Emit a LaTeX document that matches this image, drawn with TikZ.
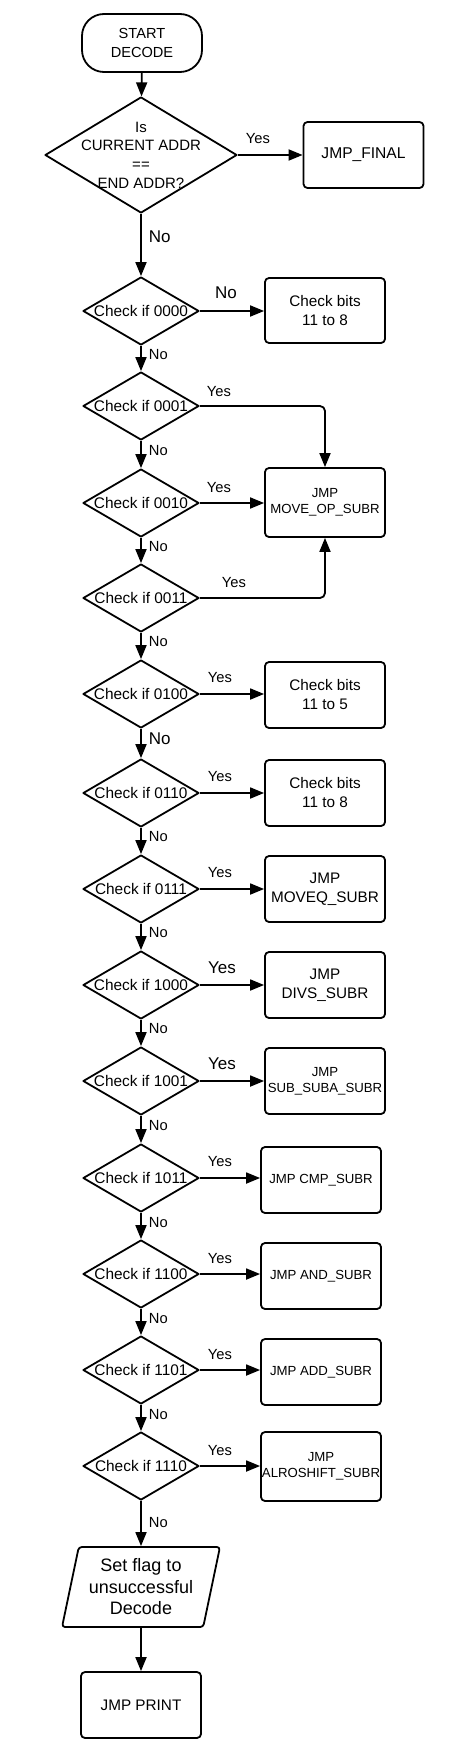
\documentclass[tikz,border=0pt]{standalone}
\usepackage{fontspec}
\setmainfont{Liberation Sans}
\usetikzlibrary{shapes.geometric,arrows.meta,calc}
\newcommand\fsz[2]{\fontsize{#1}{#2}\selectfont}
\begin{document}
\begin{tikzpicture}[x=1pt,y=-1pt,
  lw/.style={line width=1.8pt, line join=round},
  proc/.style={lw, draw, rectangle, rounded corners=4pt, minimum width=120pt, minimum height=66pt, align=center, inner sep=0pt, font=\fsz{15.3}{19}},
  small/.style={font=\fsz{13.2}{15.7}},
  dia/.style={lw, draw, diamond, minimum width=116pt, minimum height=68pt, inner sep=0pt},
  dtext/.style={font=\fsz{15.4}{19}, inner sep=0pt},
  arr/.style={lw, -{Triangle[length=14pt,width=11pt]}},
  lab/.style={font=\fsz{14.7}{17}, inner sep=0pt},
  biglab/.style={font=\fsz{17}{20}, inner sep=0pt},
]
\useasboundingbox (0,0) rectangle (467,1755);

% top part
\node[lw, draw, rectangle, rounded corners=22pt, minimum width=120pt, minimum height=58pt, align=center, inner sep=0pt, font=\fsz{14.6}{19}] (start) at (142,43) {START\\DECODE};
\node[lw, draw, diamond, minimum width=192pt, minimum height=116pt, inner sep=0pt,
  label={[font=\fsz{15}{18.7}, align=center, inner sep=0pt]center:{Is\\CURRENT ADDR\\==\\END ADDR?}}] (top) at (141,155) {};
\node[proc, font=\fsz{15.6}{19}] (final) at (363.5,155) {JMP\_FINAL};

% decision chain
\foreach \n/\y/\t in {0/311/0000, 1/406/0001, 2/503/0010, 3/598/0011, 4/694/0100, 5/793/0110, 6/889/0111, 7/985/1000, 8/1081/1001, 9/1178/1011, 10/1274/1100, 11/1370/1101, 12/1466/1110}
  \node[dia, label={[dtext]center:Check if \t}] (d\n) at (141,\y) {};

% right column boxes
\node[proc, minimum height=65pt] (cb1) at (325,310.5) {Check bits\\11 to 8};
\node[proc, small, minimum height=69pt] (mov) at (325,502.5) {JMP\\MOVE\_OP\_SUBR};
\node[proc] (cb2) at (325,695) {Check bits\\11 to 5};
\node[proc] (cb3) at (325,793) {Check bits\\11 to 8};
\node[proc] (moveq) at (325,889) {JMP\\MOVEQ\_SUBR};
\node[proc] (divs) at (325,985) {JMP\\DIVS\_SUBR};
\node[proc, small] (sub) at (325,1081) {JMP\\SUB\_SUBA\_SUBR};
\node[proc, small] (cmp) at (321,1180) {JMP CMP\_SUBR};
\node[proc, small] (and) at (321,1276) {JMP AND\_SUBR};
\node[proc, small] (add) at (321,1372) {JMP ADD\_SUBR};
\node[proc, small, minimum height=69pt] (alro) at (321,1466.5) {JMP\\ALROSHIFT\_SUBR};

% bottom
\node[lw, draw, trapezium, trapezium left angle=76, trapezium right angle=104, trapezium stretches=true,
  minimum width=158pt, minimum height=80pt, rounded corners=3pt, align=center, inner sep=0pt,
  font=\fsz{18}{21.5}] (par) at (141,1587) {Set flag to\\unsuccessful\\Decode};
\node[proc] (print) at (141,1705) {JMP PRINT};

% connectors
\draw[arr] (start) -- (top);
\draw[arr] (top.east) -- node[lab, pos=0, xshift=20pt, yshift=16pt]{Yes} (final.west);
\draw[arr] (top.south) -- node[biglab, anchor=west, xshift=7pt, yshift=8pt]{No} (d0.north);
\draw[arr] (d0.east) -- node[biglab, pos=0, xshift=26pt, yshift=18pt]{No} (d0.east -| cb1.west);

\foreach \a/\b in {0/1,1/2,2/3,3/4,5/6,6/7,7/8,8/9,9/10,10/11,11/12}
  \draw[arr] (d\a.south) -- node[lab, anchor=west, xshift=7pt, yshift=4pt]{No} (d\b.north);
\draw[arr] (d4.south) -- node[biglab, anchor=west, xshift=7pt, yshift=5pt]{No} (d5.north);

\draw[arr, rounded corners=5pt] (d1.east) -- node[lab, pos=0, xshift=19pt, yshift=14pt]{Yes} (d1.east -| mov.north) -- (mov.north);
\draw[arr] (d2.east) -- node[lab, pos=0, xshift=19pt, yshift=15pt]{Yes} (d2.east -| mov.west);
\draw[arr, rounded corners=5pt] (d3.east) -- node[lab, pos=0, xshift=34pt, yshift=15pt]{Yes} (d3.east -| mov.south) -- (mov.south);

\foreach \n/\b in {4/cb2, 5/cb3, 6/moveq, 9/cmp, 10/and, 11/add, 12/alro}
  \draw[arr] (d\n.east) -- node[lab, pos=0, xshift=20pt, yshift=16pt]{Yes} (d\n.east -| \b.west);
\foreach \n/\b in {7/divs, 8/sub}
  \draw[arr] (d\n.east) -- node[biglab, pos=0, xshift=22pt, yshift=17pt]{Yes} (d\n.east -| \b.west);

\draw[arr] (d12.south) -- node[lab, anchor=west, xshift=7pt, yshift=1pt]{No} (par.north);
\draw[arr] (par.south) -- (print.north);
\end{tikzpicture}
\end{document}
